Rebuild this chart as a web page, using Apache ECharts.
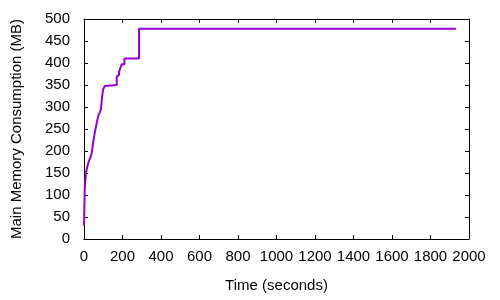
<!DOCTYPE html>
<html>
<head>
<meta charset="utf-8">
<script src="https://cdn.jsdelivr.net/npm/echarts@6/dist/echarts.min.js"></script>
<style>
  html, body { margin: 0; padding: 0; background: #fff; }
  #main { width: 500px; height: 300px; }
</style>
</head>
<body>
<div id="main"></div>
<script>
// tiempo (s) y memoria (MB)
var times = [0, 4, 10, 17, 22, 28, 35, 40, 48, 54, 59, 64, 69, 76, 83, 88, 95, 100, 109, 118,
             170, 175, 182, 187, 192, 196, 210, 286, 1932];
var memory = [30, 115, 150, 164, 172, 180, 187, 195, 221, 236, 248, 259, 270, 282, 289, 295, 327, 341, 348, 350,
              369, 373, 380, 386, 392, 397, 410, 478, 478];

var xTitle = 'Time (seconds)';
var yTitle = 'Main Memory Consumption (MB)';

var pts = times.map(function (t, i) { return [t, memory[i]]; });

var font = 'Liberation Sans, Arial, sans-serif';
var black = '#000';
var fsize = 15;

function axisBase(extra) {
    var a = {
        axisLine: { show: true, onZero: false, lineStyle: { color: black, width: 1 } },
        axisTick: { show: true, inside: true, length: 4, lineStyle: { color: black } },
        splitLine: { show: false },
        axisLabel: { show: false }
    };
    for (var k in extra) a[k] = extra[k];
    return a;
}

function plain(v) { return String(v); }

var chart = echarts.init(document.getElementById('main'));
var option = {
    animation: false,
    grid: { left: 84, right: 31, top: 19, bottom: 61 },
    xAxis: [
        axisBase({
            type: 'value', min: 0, max: 2000, interval: 200,
            name: xTitle, nameLocation: 'middle', nameGap: 39,
            nameTextStyle: { color: black, fontFamily: font, fontSize: fsize },
            axisLabel: { show: true, color: black, fontFamily: font, fontSize: fsize, margin: 10, formatter: plain }
        }),
        axisBase({
            type: 'value', min: 0, max: 2000, interval: 200, position: 'top'
        })
    ],
    yAxis: [
        axisBase({
            type: 'value', min: 0, max: 500, interval: 50,
            name: yTitle, nameLocation: 'middle', nameGap: 60,
            nameTextStyle: { color: black, fontFamily: font, fontSize: fsize },
            axisLabel: { show: true, color: black, fontFamily: font, fontSize: fsize, margin: 14, formatter: plain }
        }),
        axisBase({
            type: 'value', min: 0, max: 500, interval: 50, position: 'right'
        })
    ],
    series: [{
        type: 'line',
        step: 'end',
        data: pts,
        showSymbol: false,
        lineStyle: { color: '#9400d3', width: 2 },
        itemStyle: { color: '#9400d3' }
    }]
};
chart.setOption(option);
</script>
</body>
</html>
